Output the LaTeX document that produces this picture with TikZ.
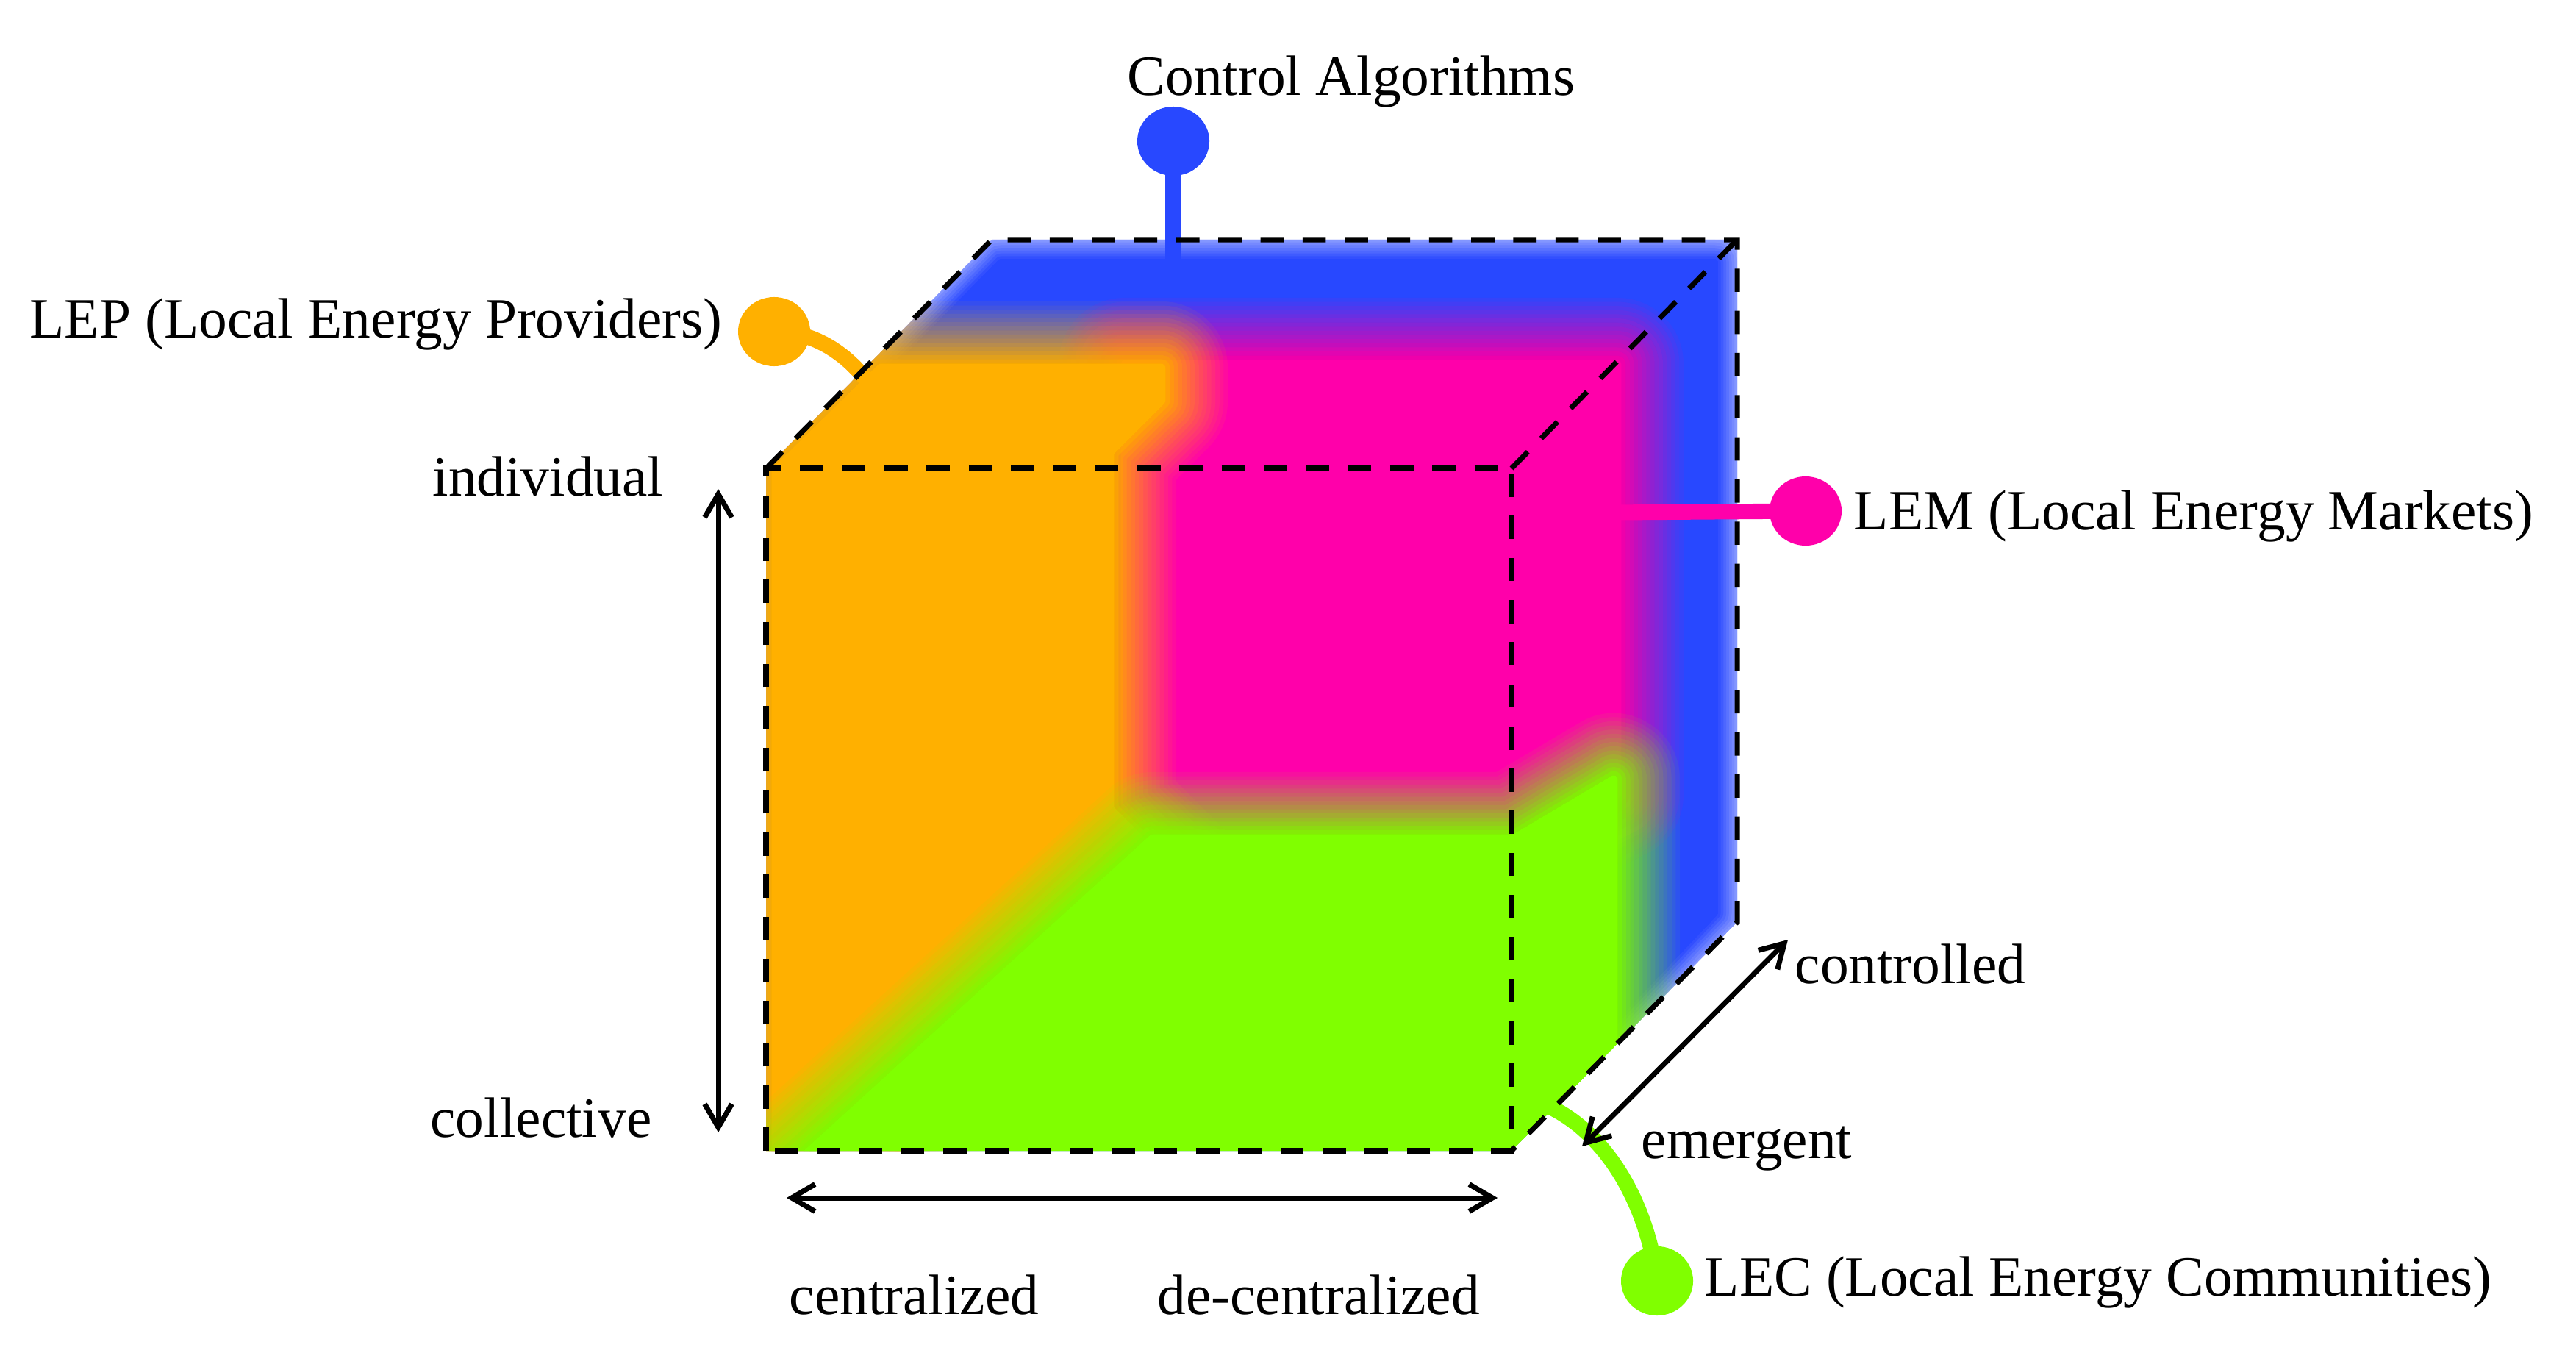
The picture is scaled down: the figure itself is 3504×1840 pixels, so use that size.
\documentclass[tikz,border=0pt]{standalone}
\usepackage{fontspec}
\setmainfont{Liberation Serif}
\usetikzlibrary{arrows.meta,shapes.geometric}
\definecolor{cblue}{RGB}{40,72,255}
\definecolor{corange}{RGB}{255,176,0}
\definecolor{cpink}{RGB}{255,0,170}
\definecolor{cgreen}{RGB}{128,255,0}
\tikzset{
  frontedge/.style={line width=2.3pt, dash pattern=on 9pt off 7.3pt},
  backedge/.style={line width=2pt, dash pattern=on 9pt off 7.3pt},
  axis/.style={line width=2pt, {Straight Barb[length=9pt,width=10.5pt]}-{Straight Barb[length=9pt,width=10.5pt]}},
  stem/.style={line width=6pt},
  dot/.style={ellipse, minimum width=0.98cm, minimum height=0.94cm, inner sep=0pt},
  lab/.style={inner sep=0pt, font=\fontsize{22}{26}\selectfont},
}
% linear soft edge: core polygon #3 solid, fading to nothing #2 px outside it
\newcommand\blurregion[3]{%
  \foreach \j in {1,...,16}{%
    \pgfmathsetmacro\lw{2*#2*\j/16*0.28453}%
    \pgfmathsetmacro\op{1/\j}%
    \draw[#1, draw opacity=\op, line width=\lw pt, line join=round] #3;
  }%
  \fill[#1] #3;
}
\begin{document}
\begin{tikzpicture}[x=0.01cm, y=-0.01cm]
\useasboundingbox (0,0) rectangle (3504,1840);
\fill[white] (0,0) rectangle (3504,1840);

% cube corners
\coordinate (FTL) at (1042,637);
\coordinate (FTR) at (2056,637);
\coordinate (FBR) at (2056,1565);
\coordinate (FBL) at (1042,1565);
\coordinate (BTL) at (1349,326);
\coordinate (BTR) at (2363,326);
\coordinate (BBR) at (2363,1254);

% coloured, blurred interior
\begin{scope}
  \clip (FBL) -- (FTL) -- (BTL) -- (BTR) -- (BBR) -- (FBR) -- cycle;
  \blurregion{cblue}{60}{(1072,1540) -- (1072,649) -- (1361,356) -- (2333,356) -- (2333,1242) -- (2050,1540) -- cycle}
  \blurregion{cpink}{90}{(1530,495) -- (2200,495) -- (2200,1080) -- (2060,1150) -- (1530,1150) -- cycle}
  \blurregion{corange}{90}{(1055,1650) -- (1055,640) -- (1198,500) -- (1580,500) -- (1580,545) -- (1510,615) -- (1510,1100) -- (1600,1190) -- (1140,1650) -- cycle}
  \blurregion{cgreen}{90}{(1568,1140) -- (2060,1140) -- (2195,1060) -- (2195,1430) -- (2056,1600) -- (1063,1600) -- cycle}
\end{scope}

% pins
\node[dot, fill=cblue] (cdot) at (1596,192) {};
\node[dot, fill=corange] (lepdot) at (1053,451) {};
\node[dot, fill=cpink] (lemdot) at (2456,695) {};
\node[dot, fill=cgreen] (lecdot) at (2254,1742) {};
\coordinate (cend) at (1596,353);
\coordinate (lepend) at (1222,610);
\coordinate (lemend) at (2195,697);
\coordinate (lecend) at (2055,1490);
\draw[stem, cblue] (cend) -- (cdot.center);
\draw[stem, corange] (lepdot.center) .. controls (1140,450) and (1205,530) .. (lepend);
\draw[stem, cpink] (lemend) -- (lemdot.center);
\draw[stem, cgreen] (lecend) .. controls (2150,1500) and (2235,1600) .. (lecdot.center);

% cube edges
\draw[frontedge] (FBL) -- (FTL) -- (FTR) -- (FBR) -- cycle;
\draw[backedge] (FTL) -- (BTL) -- (BTR) -- (BBR) -- (FBR);
\draw[backedge] (FTR) -- (BTR);

% axes
\coordinate (vtop) at (977,665);
\coordinate (vbot) at (977,1540);
\coordinate (hleft) at (1070,1629);
\coordinate (hright) at (2037,1629);
\coordinate (demerg) at (2152,1559);
\coordinate (dctrl) at (2432,1278);
\draw[axis] (vtop) -- (vbot);
\draw[axis] (hleft) -- (hright);
\draw[axis] (demerg) -- (dctrl);

% labels
\node[lab, anchor=base] (ctext) at (1838,130) {Control Algorithms};
\node[lab, anchor=base east] (leptext) at (983,460) {LEP (Local Energy Providers)};
\node[lab, anchor=base west] (lemtext) at (2521,720) {LEM (Local Energy Markets)};
\node[lab, anchor=base west] (lectext) at (2318,1762) {LEC (Local Energy Communities)};
\node[lab, anchor=base east] (tind) at (903,674) {individual};
\node[lab, anchor=base east] (tcol) at (887,1546) {collective};
\node[lab, anchor=base west] (tcen) at (1073,1787) {centralized};
\node[lab, anchor=base west] (tdec) at (1574,1787) {de-centralized};
\node[lab, anchor=base west] (tctrl) at (2441,1337) {controlled};
\node[lab, anchor=base west] (temg) at (2232,1575) {emergent};
\end{tikzpicture}
\end{document}
